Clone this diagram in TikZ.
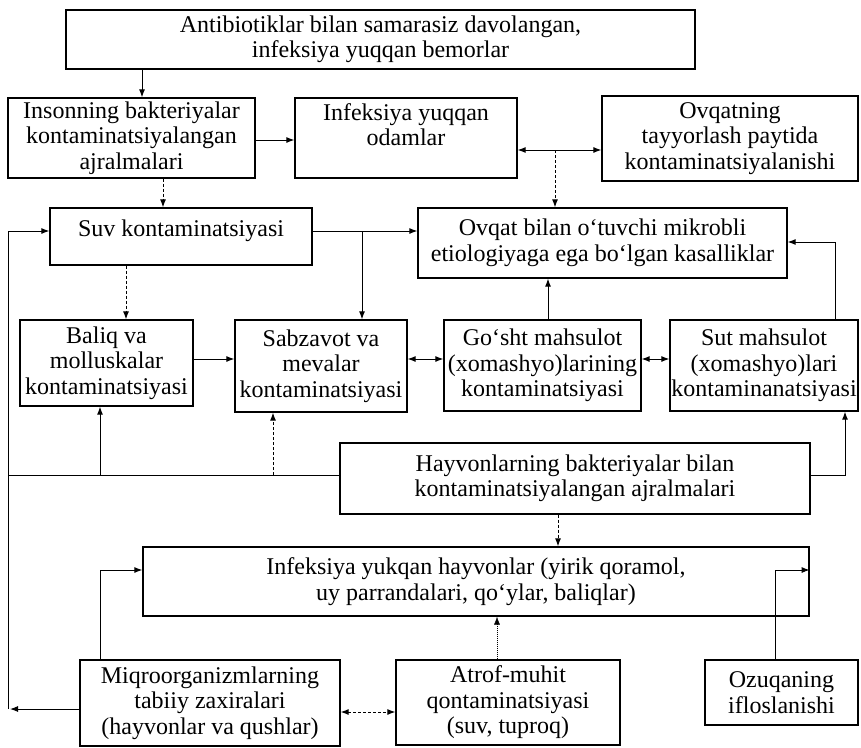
\documentclass[tikz,border=0pt]{standalone}
\usepackage{fontspec}
\setmainfont{Liberation Serif}
\usetikzlibrary{arrows.meta}
\begin{document}
\begin{tikzpicture}[x=1pt,y=-1pt,
  box/.style={draw, line width=1.3pt, align=center, inner sep=0pt,
    font=\fontsize{24}{25.5}\selectfont},
  arr/.style={line width=1pt, -{Latex[length=8pt,width=6pt]}},
  darr/.style={line width=1pt, {Latex[length=8pt,width=6pt]}-{Latex[length=8pt,width=6pt]}},
  ln/.style={line width=1pt},
  dsh/.style={densely dashed, dash pattern=on 3pt off 2pt}]
\useasboundingbox (0,0) rectangle (861,747);
% boxes
\node[box, minimum width=629pt, minimum height=59pt] (top) at (380.5,39.5)
  {Antibiotiklar bilan samarasiz davolangan,\\ infeksiya yuqqan bemorlar};
\node[box, minimum width=247pt, minimum height=80pt] (inson) at (131.5,138)
  {Insonning bakteriyalar\\ kontaminatsiyalangan\\ ajralmalari};
\node[box, minimum width=222pt, minimum height=80pt] (infodam) at (406,138)
  {Infeksiya yuqqan\\ odamlar\\[-6pt] \strut};
\node[box, minimum width=256pt, minimum height=85pt] (ovqatning) at (730,138.5)
  {Ovqatning\\ tayyorlash paytida\\ kontaminatsiyalanishi};
\node[box, minimum width=262pt, minimum height=57pt] (suv) at (181,236.5)
  {Suv kontaminatsiyasi\\[-16pt]\strut};
\node[box, minimum width=369pt, minimum height=70pt] (ovqatbilan) at (602.5,243)
  {Ovqat bilan o‘tuvchi mikrobli\\ etiologiyaga ega bo‘lgan kasalliklar};
\node[box, minimum width=173pt, minimum height=86pt] (baliq) at (106.5,363)
  {Baliq va\\ molluskalar\\ kontaminatsiyasi};
\node[box, minimum width=172pt, minimum height=92pt] (sabz) at (321,366)
  {Sabzavot va\\ mevalar\\ kontaminatsiyasi};
\node[box, minimum width=197pt, minimum height=91pt] (gosht) at (542.5,365.5)
  {Go‘sht mahsulot\\ (xomashyo)larining\\ kontaminatsiyasi};
\node[box, minimum width=188pt, minimum height=91pt] (sut) at (764,365.5)
  {Sut mahsulot\\ (xomashyo)lari\\ kontaminanatsiyasi};
\node[box, minimum width=470pt, minimum height=71pt] (hayv) at (575,478.5)
  {Hayvonlarning bakteriyalar bilan\\ kontaminatsiyalangan ajralmalari};
\node[box, minimum width=666pt, minimum height=69pt] (infhayv) at (476,581.5)
  {Infeksiya yukqan hayvonlar (yirik qoramol,\\ uy parrandalari, qo‘ylar, baliqlar)};
\node[box, minimum width=260pt, minimum height=86pt] (miqro) at (210,703)
  {Miqroorganizmlarning\\ tabiiy zaxiralari\\ (hayvonlar va qushlar)};
\node[box, minimum width=224pt, minimum height=85pt] (atrof) at (508,702.5)
  {Atrof-muhit\\ qontaminatsiyasi\\ (suv, tuproq)};
\node[box, minimum width=153pt, minimum height=65pt] (ozuq) at (781.5,692.5)
  {Ozuqaning\\ ifloslanishi};
% helper points
\coordinate (L1) at (8,709);
\coordinate (L2) at (8,231);
\coordinate (L3) at (8,475);
\coordinate (J1) at (555,150);
\coordinate (J2) at (362,231);
\coordinate (J3) at (100,475);
\coordinate (J4) at (273,475);
% connectors
\draw[arr] (top.south -| 142,0) -- (inson.north -| 142,0);
\draw[arr] (inson.east |- 0,140) -- (infodam.west |- 0,140);
\draw[darr] (infodam.east |- 0,150) -- (ovqatning.west |- 0,150);
\draw[arr, dsh] (J1) -- (ovqatbilan.north -| J1);
\draw[arr, dsh] (inson.south -| 163,0) -- (suv.north -| 163,0);
\draw[arr] (suv.east |- 0,231) -- (ovqatbilan.west |- 0,231);
\draw[arr] (J2) -- (sabz.north -| J2);
\draw[arr, dsh] (suv.south -| 126,0) -- (baliq.north -| 126,0);
\draw[arr] (baliq.east |- 0,359) -- (sabz.west |- 0,359);
\draw[darr] (sabz.east |- 0,359) -- (gosht.west |- 0,359);
\draw[darr] (gosht.east |- 0,359) -- (sut.west |- 0,359);
\draw[arr] (gosht.north -| 548,0) -- (ovqatbilan.south -| 548,0);
\draw[arr] (sut.north -| 835,0) -- (835,242) -- (ovqatbilan.east |- 0,242);
\draw[ln] (hayv.west |- L3) -- (L3);
\draw[arr] (J3) -- (baliq.south -| J3);
\draw[arr, dsh] (J4) -- (sabz.south -| J4);
\draw[arr] (hayv.east |- 0,475) -- (845,475) -- (sut.south -| 845,0);
\draw[arr, dsh] (hayv.south -| 558,0) -- (infhayv.north -| 558,0);
\draw[arr] (miqro.north -| 100,0) -- (100,570) -- (infhayv.west |- 0,570);
\draw[arr] (ozuq.north -| 775,0) -- (775,570) -- (infhayv.east |- 0,570);
\draw[arr, densely dotted, line width=0.5pt] (atrof.north -| 497,0) -- (infhayv.south -| 497,0);
\draw[darr, dsh] (miqro.east |- 0,712) -- (atrof.west |- 0,712);
\draw[arr] (miqro.west |- L1) -- (10,709);
\draw[ln] (L1) -- (L2);
\draw[arr] (L2) -- (suv.west |- L2);
\end{tikzpicture}
\end{document}
